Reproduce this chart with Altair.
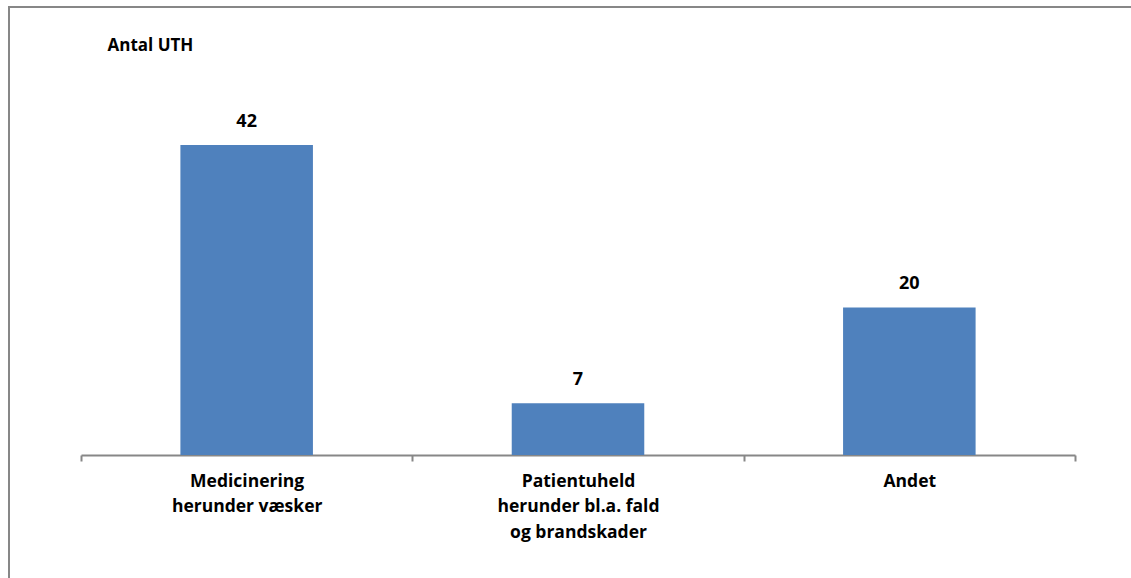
import altair as alt
import pandas as pd

categories = ["Medicinering\nherunder væsker",
              "Patientuheld\nherunder bl.a. fald\nog brandskader",
              "Andet"]
values = [42, 7, 20]
y_title = "Antal UTH"

df = pd.DataFrame({"kategori": categories, "antal": values})

FONT = "Open Sans"
BLUE = "#4F81BD"
GRAY = "#878787"

x_enc = alt.X(
    "kategori:N", sort=None, title=None,
    scale=alt.Scale(paddingInner=0, paddingOuter=0),
    axis=alt.Axis(
        labelAngle=0, tickBand="extent", domainColor=GRAY, tickColor=GRAY,
        domainWidth=2, tickWidth=2, tickSize=6, labelPadding=11,
        labelFont=FONT, labelFontSize=17.5, labelFontWeight="bold",
        labelColor="black", labelLineHeight=25.5, labelBaseline="top",
        labelExpr="split(datum.label, '\\n')",
    ),
)
y_enc = alt.Y(
    "antal:Q", scale=alt.Scale(domain=[0, 50], nice=False),
    axis=alt.Axis(
        title=y_title, titleAngle=0, titleX=26, titleY=-41,
        titleAlign="left", titleBaseline="middle",
        titleFont=FONT, titleFontSize=17, titleFontWeight="bold",
        titleColor="black", domain=False, labels=False, ticks=False,
        grid=False,
    ),
)

base = alt.Chart(df)
bars = base.mark_bar(color=BLUE, width=alt.RelativeBandSize(0.4)).encode(
    x=x_enc, y=y_enc
)
labels = base.mark_text(
    font=FONT, fontSize=18, fontWeight="bold", color="black",
    baseline="bottom", dy=-14
).encode(x=alt.X("kategori:N", sort=None), y="antal:Q", text="antal:Q")

border_df = pd.DataFrame({"k": [0]})
top_line = alt.Chart(border_df).mark_rule(color=GRAY, strokeWidth=2).encode(
    x=alt.value(-72), x2=alt.value(1060), y=alt.value(-79)
)
left_line = alt.Chart(border_df).mark_rule(color=GRAY, strokeWidth=2).encode(
    x=alt.value(-72), y=alt.value(-80), y2=alt.value(500)
)

chart = alt.layer(bars, labels, top_line, left_line).properties(
    width=994, height=369,
    autosize=alt.AutoSizeParams(type="none"),
    padding={"left": 81, "top": 86, "right": 56, "bottom": 123},
).configure(background="white").configure_view(stroke=None)

chart.save("out.html", embed_options={"renderer": "svg", "actions": False})
